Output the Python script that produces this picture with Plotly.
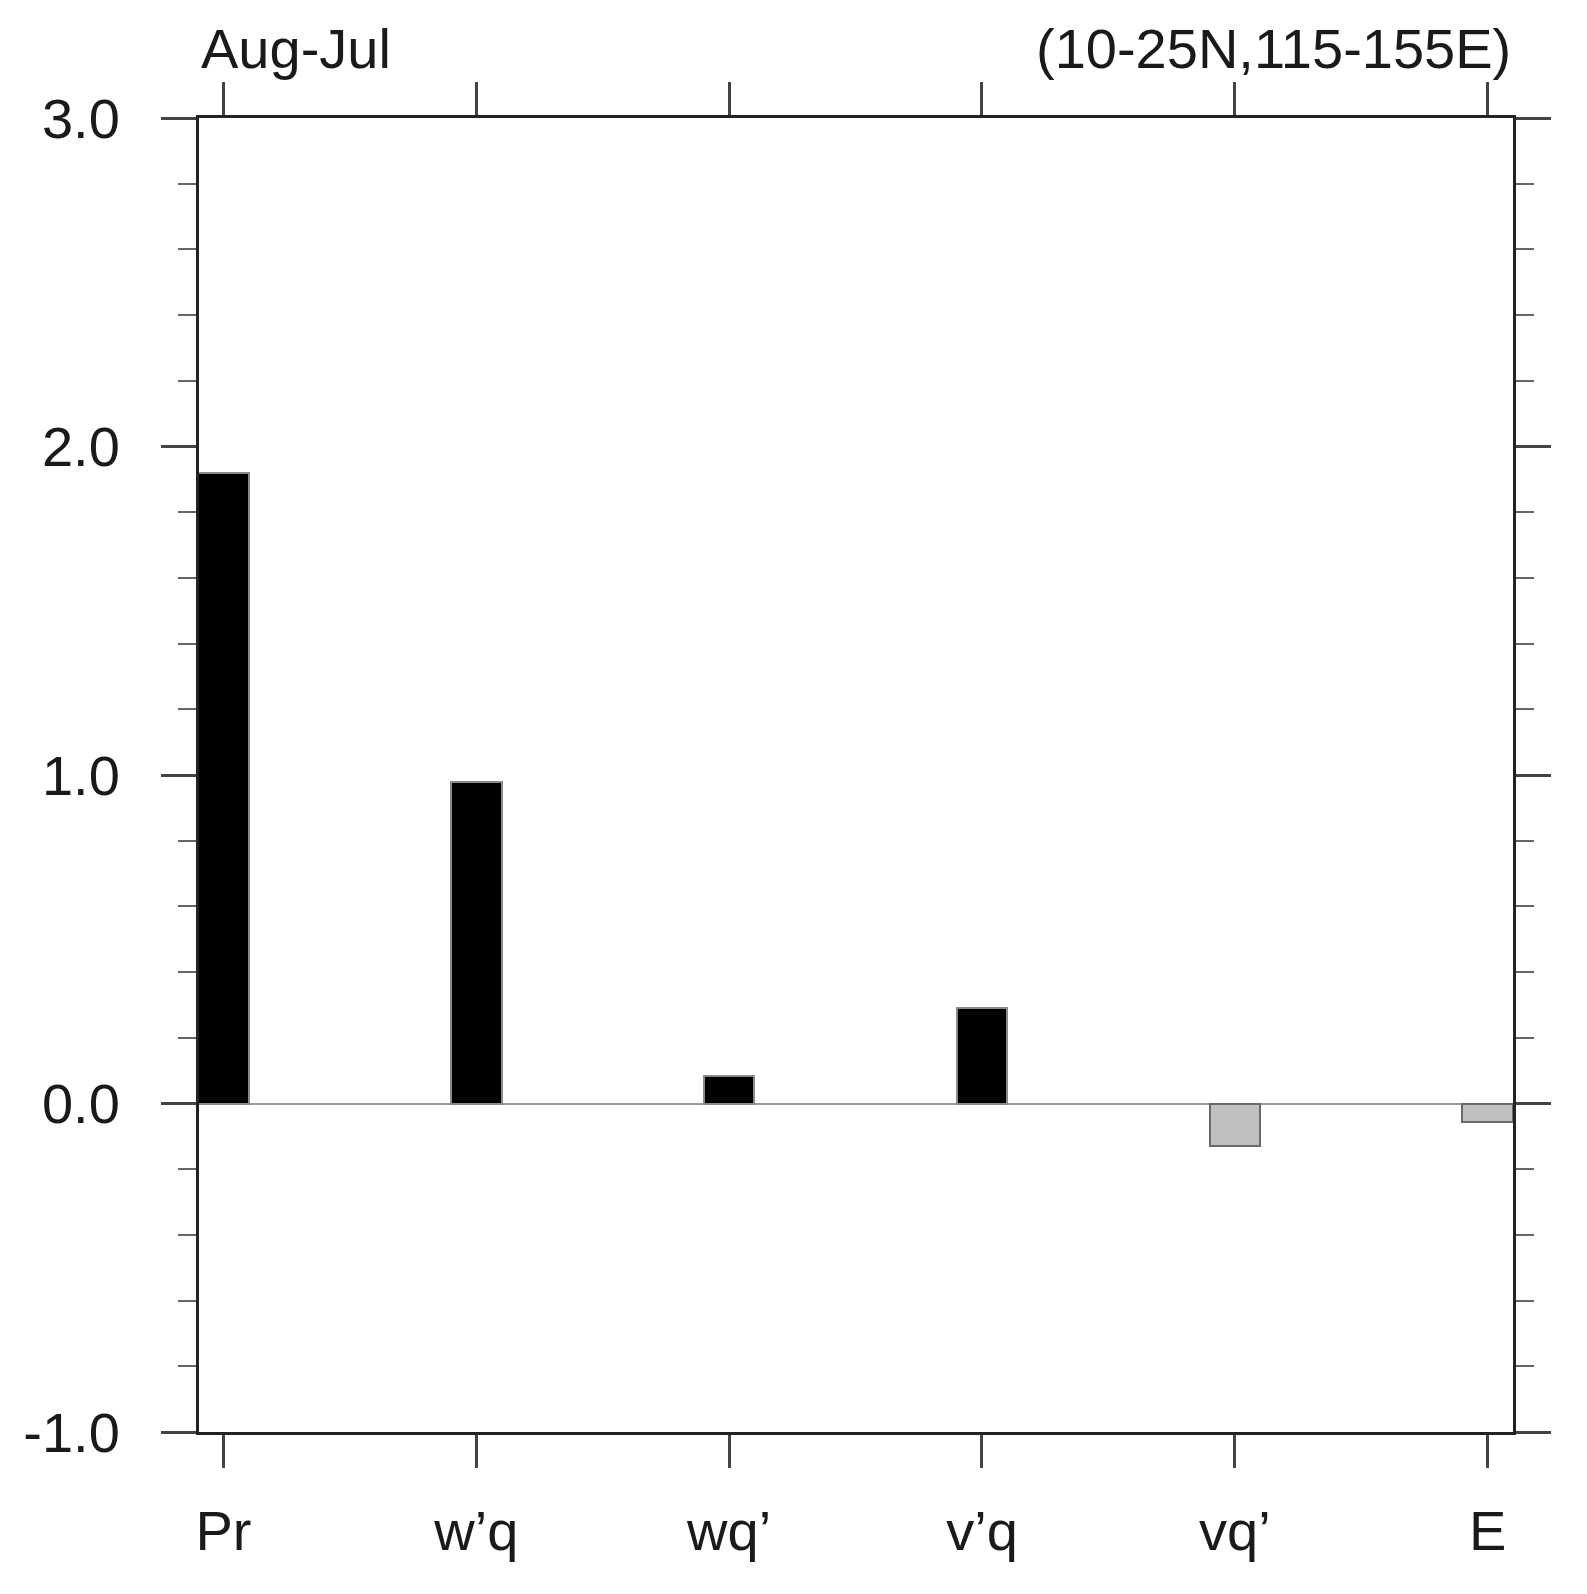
import plotly.graph_objects as go

categories = ["Pr", "w\u2019q", "wq\u2019", "v\u2019q", "vq\u2019", "E"]
values = [1.92, 0.98, 0.085, 0.29, -0.13, -0.055]
ytick_vals = [-1.0, 0.0, 1.0, 2.0, 3.0]
ytick_text = ["-1.0", "0.0", "1.0", "2.0", "3.0"]
title_left = "Aug-Jul"
title_right = "(10-25N,115-155E)"

W, H = 1587, 1594
L, R, T, B = 199, 74, 118, 162
FONT = "Liberation Sans, Arial, Helvetica, sans-serif"
FS = 56

fill_colors = ["#000000" if v >= 0 else "#c0c0c0" for v in values]
line_colors = ["#8a8a8a" if v >= 0 else "#6a6a6a" for v in values]

fig = go.Figure()
fig.add_trace(go.Bar(
    x=list(range(len(categories))), y=values, width=0.2,
    marker=dict(color=fill_colors, line=dict(color=line_colors, width=2)),
    showlegend=False,
))

fig.update_layout(
    width=W, height=H,
    margin=dict(l=L, r=R, t=T, b=B, pad=0),
    paper_bgcolor="white", plot_bgcolor="white",
    font=dict(family=FONT, size=FS, color="#1a1a1a"),
    bargap=0,
)

fig.update_xaxes(
    range=[-0.0965, 5.1],
    tickmode="array", tickvals=list(range(len(categories))), ticktext=categories,
    ticks="outside", ticklen=33, tickwidth=3, tickcolor="#444",
    showline=True, linecolor="#222", linewidth=3, mirror="allticks",
    showgrid=False, zeroline=False,
    tickfont=dict(family=FONT, size=FS, color="#1a1a1a"),
    ticklabelstandoff=15,
)
fig.update_yaxes(
    range=[-1.0, 3.0],
    tickmode="array", tickvals=ytick_vals, ticktext=ytick_text,
    ticks="outside", ticklen=35, tickwidth=3, tickcolor="#444",
    minor=dict(dtick=0.2, tick0=0, ticks="outside", ticklen=18, tickwidth=2, tickcolor="#666", showgrid=False),
    showline=True, linecolor="#222", linewidth=3, mirror="allticks",
    showgrid=False,
    zeroline=True, zerolinecolor="#9a9a9a", zerolinewidth=2,
    tickfont=dict(family=FONT, size=FS, color="#1a1a1a"),
    ticklabelstandoff=30,
)

ph = H - T - B
ycap = 1 + (T - 48) / ph
fig.add_annotation(text=title_left, xref="paper", yref="paper", x=0, y=ycap,
                   xanchor="left", yanchor="middle", showarrow=False,
                   font=dict(family=FONT, size=FS, color="#1a1a1a"))
fig.add_annotation(text=title_right, xref="paper", yref="paper", x=1, y=ycap,
                   xanchor="right", yanchor="middle", showarrow=False,
                   font=dict(family=FONT, size=FS, color="#1a1a1a"))

fig.write_html("out.html", config={"displayModeBar": False},
               post_script="document.body.style.margin='0';")
